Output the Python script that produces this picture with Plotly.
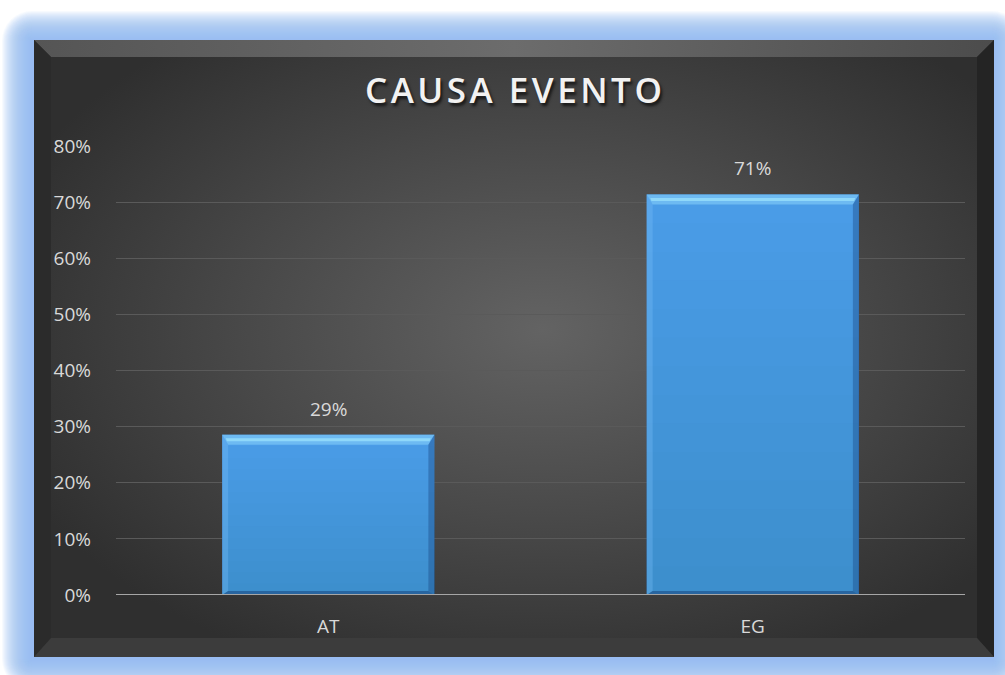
import base64
import plotly.graph_objects as go

# Chart data
categories = ["AT", "EG"]
shares = [0.2857, 0.7143]
y_ticks = [0, 0.1, 0.2, 0.3, 0.4, 0.5, 0.6, 0.7, 0.8]
y_tick_labels = ["0%", "10%", "20%", "30%", "40%", "50%", "60%", "70%", "80%"]
title_text = "CAUSA EVENTO"

W, H = 1005, 675
ML, MR, MT, MB = 116, 40, 146, 80
PW, PH = W - ML - MR, H - MT - MB
Y_MAX = 0.8
BAR_W = 0.5

# Background: blue glow, bevelled dark panel with a radial sheen
px0, py0, px1, py1, bv = 34, 40, 994, 657, 17
glow = []
for i in range(30, 0, -1):
    glow.append(
        f"<rect x='{px0 - i - 2}' y='{py0 - i + 1}' width='{px1 - px0 + 2 * i}' "
        f"height='{py1 - py0 + 2 * i + 1}' rx='{i}' fill='#96bbf6' fill-opacity='0.075'/>"
    )
svg = f"""<svg xmlns='http://www.w3.org/2000/svg' width='{W}' height='{H}' viewBox='0 0 {W} {H}' preserveAspectRatio='none'>
<defs>
<radialGradient id='face' cx='0.53' cy='0.47' r='0.6'>
<stop offset='0' stop-color='#636363'/><stop offset='0.55' stop-color='#474747'/><stop offset='1' stop-color='#2f2f2f'/>
</radialGradient>
<linearGradient id='topb' x1='0' y1='0' x2='1' y2='0'>
<stop offset='0' stop-color='#555555'/><stop offset='0.5' stop-color='#6c6c6c'/><stop offset='1' stop-color='#4c4c4c'/>
</linearGradient>
</defs>
{''.join(glow)}
<rect x='{px0}' y='{py0}' width='{px1 - px0}' height='{py1 - py0}' fill='url(#face)'/>
<polygon points='{px0},{py0} {px1},{py0} {px1 - bv},{py0 + bv} {px0 + bv},{py0 + bv}' fill='url(#topb)'/>
<polygon points='{px0},{py0} {px0 + bv},{py0 + bv} {px0 + bv},{py1 - bv - 2} {px0},{py1}' fill='#2b2b2b'/>
<polygon points='{px1},{py0} {px1},{py1} {px1 - bv},{py1 - bv - 2} {px1 - bv},{py0 + bv}' fill='#242424'/>
<polygon points='{px0},{py1} {px0 + bv},{py1 - bv - 2} {px1 - bv},{py1 - bv - 2} {px1},{py1}' fill='#3c3c3c'/>
</svg>"""
bg_src = "data:image/svg+xml;base64," + base64.b64encode(svg.encode()).decode()

xs = list(range(len(categories)))

fig = go.Figure()
fig.add_trace(go.Bar(
    x=xs, y=shares, width=BAR_W,
    marker=dict(color="#4b9de9", line=dict(width=0)),
    hoverinfo="skip",
))

# Bevel and shading overlays computed from each bar's value
dx = 6 / PW * 2           # px -> x units (x range spans 2 units)
dy_top = 10 / PH * Y_MAX  # px -> y units
dy_bot = 4 / PH * Y_MAX
shapes = []
for x, v in zip(xs, shares):
    x0, x1 = x - BAR_W / 2, x + BAR_W / 2
    # gentle darkening toward the base
    n = 14
    for k in range(1, n + 1):
        shapes.append(dict(type="rect", xref="x", yref="y", x0=x0, x1=x1, y0=0, y1=v * k / n,
                           fillcolor="rgba(20,50,100,0.013)", line_width=0, layer="above"))
    shapes.append(dict(type="path", xref="x", yref="y",
                       path=f"M{x0},{v} L{x1},{v} L{x1 - dx},{v - dy_top} L{x0 + dx},{v - dy_top} Z",
                       fillcolor="#6dbaf2", line_width=0, layer="above"))
    shapes.append(dict(type="path", xref="x", yref="y",
                       path=f"M{x0 + dx * 0.6},{v - dy_top * 0.35} L{x1 - dx * 0.6},{v - dy_top * 0.35} "
                            f"L{x1 - dx * 0.8},{v - dy_top * 0.65} L{x0 + dx * 0.8},{v - dy_top * 0.65} Z",
                       fillcolor="#8fd8fa", line_width=0, layer="above"))
    shapes.append(dict(type="path", xref="x", yref="y",
                       path=f"M{x0},{v} L{x0 + dx},{v - dy_top} L{x0 + dx},{dy_bot} L{x0},0 Z",
                       fillcolor="rgba(120,190,245,0.35)", line_width=0, layer="above"))
    shapes.append(dict(type="path", xref="x", yref="y",
                       path=f"M{x1},{v} L{x1 - dx},{v - dy_top} L{x1 - dx},{dy_bot} L{x1},0 Z",
                       fillcolor="rgba(25,70,130,0.40)", line_width=0, layer="above"))
    shapes.append(dict(type="path", xref="x", yref="y",
                       path=f"M{x0},0 L{x0 + dx},{dy_bot} L{x1 - dx},{dy_bot} L{x1},0 Z",
                       fillcolor="rgba(20,60,115,0.5)", line_width=0, layer="above"))

# Baseline drawn over the bars
shapes.append(dict(type="line", xref="paper", yref="y", x0=0, x1=1, y0=0, y1=0,
                   line=dict(color="#a6a6a6", width=2), layer="above"))

# Value labels placed just above each bar
label_font = dict(family="Open Sans", size=19, color="#d9d9d9")
annotations = [
    dict(x=x, y=v, xref="x", yref="y", text=f"{round(v * 100)}%", showarrow=False,
         xanchor="center", yanchor="bottom", yshift=11, font=label_font)
    for x, v in zip(xs, shares)
]
annotations.append(dict(
    text="\u200a".join(title_text),
    xref="paper", yref="paper", x=(513 - ML) / PW, y=(595 - 89) / PH,
    xanchor="center", yanchor="middle", showarrow=False,
    font=dict(family="Open Sans", size=35, weight=600, color="#f2f2f2",
              shadow="2px 3px 3px rgba(0,0,0,0.65)"),
))

fig.update_layout(
    width=W, height=H,
    margin=dict(l=ML, r=MR, t=MT, b=MB, pad=0),
    paper_bgcolor="white", plot_bgcolor="rgba(0,0,0,0)",
    showlegend=False, bargap=0.5,
    images=[dict(source=bg_src, xref="paper", yref="paper",
                 x=-ML / PW, y=1 + MT / PH, sizex=W / PW, sizey=H / PH,
                 xanchor="left", yanchor="top", sizing="stretch", layer="below")],
    xaxis=dict(range=[-0.5, 1.5], tickvals=xs, ticktext=categories,
               showgrid=False, zeroline=False, showline=False, ticks="",
               ticklabelstandoff=18, tickfont=label_font, fixedrange=True),
    yaxis=dict(range=[0, Y_MAX * 1.0008], tickvals=y_ticks, ticktext=y_tick_labels,
               showgrid=True, gridcolor="#5a5a5a", gridwidth=1, zeroline=False,
               showline=False, ticks="", ticklabelstandoff=24,
               tickfont=label_font, fixedrange=True),
    shapes=shapes,
    annotations=annotations,
)

fig.write_html("out.html")
